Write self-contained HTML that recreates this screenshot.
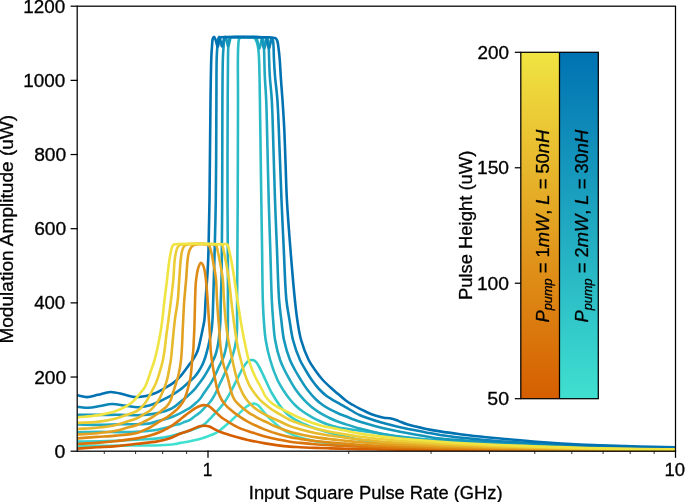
<!DOCTYPE html><html><head><meta charset="utf-8"><style>html,body{margin:0;padding:0;background:#fff;}svg{display:block;}text{font-family:"Liberation Sans", sans-serif;fill:#000;}</style></head><body>
<svg width="685" height="502" viewBox="0 0 685 502">
<rect width="685" height="502" fill="#fff"/>
<defs><clipPath id="ax"><rect x="77.20" y="6.20" width="598.30" height="445.00"/></clipPath>
<linearGradient id="go" x1="0" y1="1" x2="0" y2="0"><stop offset="0" stop-color="#d55e00"/><stop offset="1" stop-color="#f0e442"/></linearGradient>
<linearGradient id="gb" x1="0" y1="1" x2="0" y2="0"><stop offset="0" stop-color="#40e0d0"/><stop offset="1" stop-color="#0072b2"/></linearGradient></defs>
<g clip-path="url(#ax)" fill="none" stroke-width="2.60" stroke-linejoin="round" stroke-linecap="butt">
<path d="M77.20,446.30 C84.80,446.17 92.65,446.02 100.00,445.90 C106.88,445.79 113.33,445.67 120.00,445.60 C126.67,445.53 133.33,445.55 140.00,445.50 C146.67,445.45 153.82,445.60 160.00,445.30 C165.36,445.04 171.35,444.56 175.00,444.00 C177.13,443.68 178.04,443.28 180.00,442.90 C182.76,442.36 186.68,441.87 190.00,441.20 C193.32,440.53 196.78,439.78 199.90,438.90 C202.76,438.09 205.32,437.21 208.00,436.20 C210.72,435.18 213.68,434.15 216.10,432.80 C218.30,431.58 220.05,430.10 222.00,428.60 C224.02,427.04 226.02,425.34 228.00,423.60 C230.03,421.81 231.99,419.84 234.00,418.00 C235.99,416.17 238.10,414.36 240.00,412.60 C241.76,410.97 243.38,409.13 245.00,407.80 C246.36,406.68 247.67,405.70 249.00,405.00 C250.17,404.39 251.42,403.87 252.50,403.70 C253.39,403.56 254.15,403.59 255.00,403.80 C255.98,404.04 257.06,404.52 258.00,405.20 C259.08,405.98 260.06,407.32 261.00,408.40 C261.89,409.43 262.60,410.38 263.50,411.50 C264.57,412.82 265.76,414.46 267.00,415.80 C268.22,417.12 269.53,418.21 270.90,419.50 C272.42,420.93 273.96,422.50 275.70,424.00 C277.63,425.66 279.90,427.57 282.00,429.00 C283.90,430.29 285.40,431.15 287.70,432.30 C290.98,433.94 295.64,436.05 300.00,437.50 C304.69,439.06 309.97,440.23 315.00,441.20 C319.98,442.16 324.99,442.73 330.00,443.30 C334.99,443.87 339.84,444.22 345.00,444.60 C350.49,445.00 355.21,445.22 362.00,445.60 C372.15,446.17 387.17,447.05 400.00,447.60 C413.16,448.16 425.32,448.54 440.00,448.90 C457.98,449.34 480.00,449.65 500.00,449.90 C520.00,450.15 540.00,450.28 560.00,450.40 C580.00,450.52 600.39,450.55 620.00,450.60 C638.86,450.65 657.00,450.67 675.50,450.70" stroke="#40e0d0"/>
<path d="M77.20,441.60 C84.80,441.47 92.65,441.37 100.00,441.20 C106.89,441.04 113.34,440.88 120.00,440.60 C126.67,440.32 133.56,439.88 140.00,439.50 C146.03,439.14 152.17,439.01 157.50,438.40 C162.03,437.88 166.09,437.16 170.00,436.30 C173.54,435.53 176.68,434.58 180.00,433.60 C183.34,432.61 186.69,431.53 190.00,430.40 C193.32,429.27 197.19,428.08 199.90,426.80 C201.93,425.84 203.39,425.04 205.00,423.80 C206.74,422.45 208.27,420.61 209.90,418.90 C211.60,417.11 213.30,415.15 215.00,413.30 C216.67,411.48 218.37,409.81 220.00,407.90 C221.71,405.89 223.34,403.93 225.00,401.50 C226.98,398.59 228.92,395.13 230.90,391.50 C233.18,387.33 235.85,381.65 237.80,377.80 C239.22,374.99 240.27,372.75 241.50,370.50 C242.60,368.49 243.63,366.51 244.80,364.90 C245.81,363.51 246.85,362.13 248.00,361.30 C248.95,360.62 250.03,360.16 251.00,360.00 C251.85,359.86 252.70,359.93 253.50,360.20 C254.37,360.49 255.21,361.01 256.00,361.80 C257.08,362.88 258.04,364.81 259.00,366.50 C260.05,368.35 260.98,370.38 262.00,372.50 C263.14,374.85 264.15,377.16 265.50,380.00 C267.28,383.75 269.44,388.78 271.80,393.00 C274.20,397.28 277.32,402.10 279.80,405.50 C281.64,408.02 283.21,409.95 285.00,411.80 C286.62,413.47 287.97,414.71 290.00,416.20 C292.69,418.17 296.25,420.33 300.00,422.20 C304.42,424.41 309.96,426.52 315.00,428.30 C319.96,430.05 324.98,431.43 330.00,432.80 C334.98,434.16 339.83,435.32 345.00,436.50 C350.48,437.76 356.23,439.09 362.00,440.10 C367.90,441.13 373.83,441.88 380.00,442.60 C386.48,443.36 392.18,443.89 400.00,444.50 C411.04,445.36 425.31,446.24 440.00,446.90 C457.97,447.71 480.00,448.23 500.00,448.70 C520.00,449.17 540.00,449.45 560.00,449.70 C580.00,449.95 600.39,450.07 620.00,450.20 C638.86,450.33 657.00,450.40 675.50,450.50" stroke="#35cecb"/>
<path d="M77.20,432.20 C84.80,432.07 92.65,431.81 100.00,431.80 C106.88,431.79 113.33,432.15 120.00,432.10 C126.67,432.05 133.56,431.93 140.00,431.50 C146.04,431.10 152.43,430.56 157.50,429.70 C161.47,429.03 164.86,428.04 168.00,427.20 C170.58,426.51 172.86,425.68 175.00,425.10 C176.80,424.61 178.35,424.44 180.00,423.90 C181.69,423.35 183.33,422.47 185.00,421.80 C186.66,421.14 188.37,420.81 190.00,419.90 C191.84,418.88 193.67,417.07 195.40,415.80 C196.96,414.65 198.37,413.92 199.90,412.60 C201.78,410.98 203.92,408.43 205.70,406.60 C207.21,405.05 208.62,403.87 209.90,402.30 C211.22,400.68 212.40,398.84 213.50,397.00 C214.61,395.14 215.50,393.29 216.50,391.20 C217.63,388.83 218.77,385.93 219.90,383.50 C220.93,381.28 222.00,379.31 223.00,377.20 C224.00,375.11 224.90,373.08 225.90,370.90 C226.99,368.53 228.25,365.84 229.30,363.50 C230.24,361.40 231.14,359.52 231.90,357.50 C232.64,355.52 233.24,353.55 233.80,351.50 C234.38,349.39 234.87,347.29 235.30,345.00 C235.78,342.48 236.21,339.58 236.50,337.00 C236.77,334.59 236.90,332.54 237.00,330.00 C237.12,326.96 237.08,323.91 237.10,320.00 C237.13,314.48 237.08,307.34 237.10,300.00 C237.13,291.01 237.23,282.09 237.30,270.00 C237.41,251.54 237.59,225.41 237.70,200.00 C237.83,169.63 237.99,126.22 238.00,100.00 C238.01,83.01 237.76,68.01 237.90,58.00 C237.98,52.43 238.01,48.50 238.30,45.00 C238.50,42.61 238.40,40.32 239.10,39.00 C239.55,38.15 240.03,37.67 241.00,37.30 C242.82,36.61 247.60,37.27 250.00,37.30 C251.60,37.32 252.94,36.79 254.00,37.40 C255.16,38.07 255.87,40.06 256.50,41.50 C257.13,42.93 257.46,44.38 257.80,46.00 C258.19,47.84 258.40,50.00 258.60,52.00 C258.80,54.00 258.88,55.46 259.00,58.00 C259.21,62.39 259.36,69.57 259.50,76.00 C259.66,83.43 259.76,90.55 259.90,100.00 C260.11,113.64 260.37,133.33 260.60,150.00 C260.83,166.67 261.05,183.33 261.30,200.00 C261.55,216.67 261.85,233.33 262.10,250.00 C262.35,266.67 262.39,287.09 262.80,300.00 C263.06,308.17 263.32,313.34 263.80,320.00 C264.28,326.67 264.64,333.37 265.70,340.00 C266.77,346.70 268.26,353.40 270.20,360.00 C272.18,366.73 274.94,374.49 277.50,380.00 C279.43,384.16 281.38,387.22 283.50,390.50 C285.50,393.59 287.63,396.53 289.80,399.20 C291.81,401.67 293.83,403.95 296.00,406.00 C298.07,407.96 300.11,409.59 302.50,411.30 C305.16,413.20 308.34,415.13 311.30,416.80 C314.17,418.42 317.06,419.86 320.00,421.20 C322.90,422.52 325.84,423.79 328.80,424.80 C331.68,425.78 334.69,426.55 337.50,427.20 C340.08,427.80 342.06,428.13 345.00,428.60 C349.14,429.26 354.64,429.84 360.00,430.60 C366.19,431.48 373.33,432.62 380.00,433.60 C386.67,434.58 392.18,435.54 400.00,436.50 C411.03,437.85 425.31,439.26 440.00,440.50 C457.97,442.01 479.99,443.48 500.00,444.60 C519.99,445.72 540.00,446.57 560.00,447.20 C580.00,447.83 600.39,448.06 620.00,448.40 C638.86,448.72 657.00,448.93 675.50,449.20" stroke="#2bbbc6"/>
<path d="M77.20,424.50 C84.80,424.63 92.65,424.96 100.00,424.90 C106.89,424.84 113.60,424.31 120.00,424.20 C125.90,424.10 131.72,424.36 137.00,424.20 C141.63,424.06 146.30,424.10 150.00,423.40 C152.88,422.86 155.08,421.68 157.50,421.00 C159.73,420.37 161.73,420.02 164.00,419.40 C166.54,418.71 169.37,417.98 172.00,417.00 C174.70,415.99 177.67,414.57 180.00,413.40 C181.89,412.45 183.33,411.52 185.00,410.60 C186.66,409.69 188.38,408.98 190.00,407.90 C191.72,406.74 193.37,405.26 195.00,403.80 C196.68,402.30 198.42,400.77 199.90,399.00 C201.43,397.18 202.68,394.91 204.00,393.00 C205.21,391.25 206.38,389.62 207.50,388.00 C208.54,386.49 209.53,385.16 210.50,383.60 C211.54,381.94 212.53,380.13 213.50,378.30 C214.50,376.40 215.48,374.34 216.40,372.40 C217.28,370.54 218.05,368.72 218.90,366.90 C219.75,365.09 220.67,363.29 221.50,361.50 C222.30,359.76 223.16,358.11 223.80,356.30 C224.46,354.44 224.94,352.42 225.40,350.50 C225.84,348.65 226.18,346.95 226.50,345.00 C226.86,342.81 227.18,340.42 227.40,338.00 C227.63,335.43 227.72,332.82 227.80,330.00 C227.89,326.85 227.88,324.61 227.90,320.00 C227.95,309.70 227.95,288.07 227.90,270.00 C227.84,248.62 227.55,225.41 227.50,200.00 C227.44,169.63 227.58,126.22 227.70,100.00 C227.78,83.01 227.81,68.01 228.00,58.00 C228.11,52.43 228.11,48.50 228.40,45.00 C228.60,42.61 228.52,40.32 229.20,39.00 C229.63,38.16 230.00,37.70 231.00,37.30 C233.39,36.35 240.75,37.30 245.00,37.30 C248.56,37.30 252.89,37.02 254.80,37.30 C255.61,37.42 256.04,37.32 256.50,37.80 C257.33,38.67 257.42,41.67 257.90,43.50 C258.35,45.23 258.82,48.49 259.30,48.50 C259.76,48.51 260.26,45.56 260.70,44.00 C261.17,42.34 261.36,39.06 262.00,38.80 C262.32,38.67 262.81,39.04 263.10,39.50 C263.75,40.53 263.70,43.50 263.90,46.00 C264.16,49.39 264.17,53.60 264.30,58.00 C264.46,63.39 264.52,69.57 264.80,76.00 C265.12,83.43 265.80,90.54 266.20,100.00 C266.77,113.64 267.08,133.33 267.50,150.00 C267.92,166.67 268.23,183.33 268.70,200.00 C269.17,216.67 269.78,233.33 270.30,250.00 C270.82,266.67 271.19,287.09 271.80,300.00 C272.19,308.17 272.55,313.34 273.10,320.00 C273.65,326.67 273.95,333.38 275.10,340.00 C276.27,346.71 278.23,354.54 280.10,360.00 C281.46,363.97 282.89,366.70 284.50,370.00 C286.15,373.37 288.00,376.69 289.90,380.00 C291.83,383.36 293.73,386.76 296.00,390.00 C298.34,393.34 301.15,396.83 303.80,399.70 C306.16,402.26 308.55,404.47 311.00,406.50 C313.29,408.40 315.68,410.07 318.00,411.60 C320.15,413.02 322.32,414.25 324.40,415.40 C326.31,416.46 328.01,417.36 330.00,418.30 C332.19,419.33 334.57,420.37 337.00,421.30 C339.56,422.28 341.91,423.00 345.00,424.00 C349.21,425.36 354.47,427.09 360.00,428.60 C366.72,430.43 375.45,432.55 382.50,434.00 C388.68,435.27 392.96,436.02 400.00,437.00 C410.60,438.48 425.30,440.23 440.00,441.30 C457.96,442.61 480.00,442.78 500.00,443.60 C520.00,444.42 540.00,445.50 560.00,446.20 C580.00,446.90 600.39,447.36 620.00,447.80 C638.86,448.22 657.00,448.47 675.50,448.80" stroke="#20a9c1"/>
<path d="M77.20,414.70 C84.80,414.77 92.65,414.89 100.00,414.90 C106.88,414.91 113.60,414.74 120.00,414.80 C125.90,414.85 131.71,415.30 137.00,415.20 C141.63,415.11 145.96,414.89 150.00,414.40 C153.57,413.97 156.81,413.40 160.00,412.60 C163.03,411.84 166.08,410.93 168.70,409.80 C171.02,408.79 173.07,407.59 175.00,406.30 C176.82,405.08 178.34,403.65 180.00,402.30 C181.67,400.95 183.34,399.59 185.00,398.20 C186.67,396.79 188.37,395.43 190.00,393.90 C191.70,392.31 193.39,390.64 195.00,388.80 C196.70,386.86 198.41,384.49 199.90,382.50 C201.21,380.75 202.34,379.24 203.50,377.50 C204.71,375.68 205.90,373.69 207.00,371.80 C208.06,369.99 209.01,368.22 210.00,366.40 C211.01,364.55 212.08,362.75 213.00,360.80 C213.95,358.78 214.87,356.72 215.60,354.50 C216.38,352.14 216.96,349.63 217.50,347.00 C218.08,344.15 218.51,340.92 218.90,338.00 C219.27,335.26 219.56,332.82 219.80,330.00 C220.07,326.86 220.24,323.91 220.40,320.00 C220.62,314.48 220.62,307.34 220.80,300.00 C221.02,291.01 221.48,282.09 221.70,270.00 C222.04,251.54 222.08,225.41 222.20,200.00 C222.34,169.63 222.22,126.22 222.40,100.00 C222.52,83.01 222.56,67.75 222.90,58.00 C223.08,52.78 223.32,49.39 223.60,46.00 C223.81,43.50 223.88,41.18 224.30,39.50 C224.58,38.38 225.03,36.79 225.40,36.80 C225.83,36.81 226.29,39.11 226.70,40.50 C227.21,42.25 227.60,46.48 228.10,46.50 C228.54,46.52 229.06,43.50 229.50,42.00 C229.93,40.53 229.98,38.26 230.70,37.60 C231.14,37.19 231.63,37.37 232.40,37.30 C234.02,37.16 236.88,37.30 240.00,37.30 C245.01,37.30 256.64,36.87 259.60,37.30 C260.49,37.43 260.84,37.32 261.30,37.80 C262.13,38.67 262.22,41.67 262.70,43.50 C263.15,45.23 263.62,48.49 264.10,48.50 C264.56,48.51 265.06,45.56 265.50,44.00 C265.97,42.34 266.16,39.06 266.80,38.80 C267.12,38.67 267.61,39.04 267.90,39.50 C268.55,40.53 268.50,43.50 268.70,46.00 C268.96,49.39 268.94,53.60 269.10,58.00 C269.29,63.39 269.41,69.57 269.80,76.00 C270.25,83.43 271.25,90.54 271.80,100.00 C272.60,113.63 272.97,133.33 273.50,150.00 C274.03,166.67 274.42,183.33 275.00,200.00 C275.58,216.67 276.32,233.33 277.00,250.00 C277.68,266.67 278.12,287.10 279.10,300.00 C279.72,308.18 280.48,313.34 281.30,320.00 C282.12,326.67 282.57,333.39 284.00,340.00 C285.45,346.72 287.84,354.55 290.00,360.00 C291.58,363.99 293.20,366.70 295.00,370.00 C296.83,373.37 298.79,376.66 300.90,380.00 C303.11,383.49 305.45,387.21 308.00,390.50 C310.49,393.70 313.35,396.95 316.00,399.50 C318.25,401.66 320.36,403.34 322.70,405.00 C325.02,406.64 327.48,408.04 330.00,409.40 C332.57,410.78 335.40,412.07 338.00,413.20 C340.39,414.25 342.22,414.91 345.00,416.00 C349.05,417.59 354.44,419.97 360.00,421.80 C366.69,424.01 375.45,426.26 382.50,428.00 C388.68,429.52 393.63,430.55 400.00,431.80 C407.58,433.29 417.72,434.98 425.00,436.20 C430.63,437.15 433.78,437.86 440.00,438.60 C450.11,439.80 468.95,440.86 480.00,441.70 C487.81,442.30 491.54,442.74 500.00,443.20 C514.63,443.99 540.00,444.53 560.00,445.20 C580.00,445.87 600.39,446.68 620.00,447.20 C638.86,447.70 657.00,447.93 675.50,448.30" stroke="#1597bc"/>
<path d="M77.20,406.80 C80.97,407.13 84.72,407.93 88.50,407.80 C92.32,407.67 96.13,406.63 100.00,406.00 C103.96,405.36 107.91,404.09 112.00,404.00 C116.24,403.91 120.67,405.05 125.00,405.60 C129.33,406.15 133.76,407.37 138.00,407.30 C142.09,407.23 146.24,406.37 150.00,405.30 C153.55,404.29 156.69,402.70 160.00,401.20 C163.36,399.67 166.72,398.07 170.00,396.20 C173.38,394.28 176.76,392.24 180.00,389.80 C183.43,387.21 187.26,383.50 190.00,381.00 C191.97,379.21 193.50,377.99 195.00,376.30 C196.46,374.65 197.68,372.90 198.90,371.00 C200.19,368.98 201.45,366.74 202.50,364.50 C203.55,362.24 204.41,359.89 205.20,357.50 C206.01,355.06 206.66,352.46 207.30,350.00 C207.92,347.63 208.45,345.42 209.00,343.00 C209.59,340.43 210.22,337.67 210.70,335.00 C211.18,332.34 211.59,329.75 211.90,327.00 C212.23,324.09 212.40,321.52 212.60,318.00 C212.88,313.03 212.99,306.76 213.20,300.00 C213.48,291.27 213.77,282.09 214.10,270.00 C214.60,251.54 215.42,225.41 215.80,200.00 C216.26,169.63 216.23,126.22 216.40,100.00 C216.51,83.01 216.38,67.75 216.70,58.00 C216.87,52.78 217.12,49.39 217.40,46.00 C217.61,43.50 217.68,41.18 218.10,39.50 C218.38,38.38 218.83,36.79 219.20,36.80 C219.63,36.81 220.09,39.11 220.50,40.50 C221.01,42.25 221.40,46.48 221.90,46.50 C222.34,46.52 222.86,43.50 223.30,42.00 C223.73,40.53 223.78,38.26 224.50,37.60 C224.94,37.19 225.41,37.37 226.20,37.30 C227.99,37.14 231.21,37.30 235.00,37.30 C241.93,37.30 260.62,36.75 264.40,37.30 C265.33,37.43 265.64,37.32 266.10,37.80 C266.93,38.67 267.02,41.67 267.50,43.50 C267.95,45.23 268.42,48.49 268.90,48.50 C269.36,48.51 269.86,45.56 270.30,44.00 C270.77,42.34 270.96,39.06 271.60,38.80 C271.92,38.67 272.41,39.04 272.70,39.50 C273.35,40.53 273.30,43.50 273.50,46.00 C273.76,49.39 273.69,53.60 273.90,58.00 C274.15,63.40 274.48,69.57 275.00,76.00 C275.60,83.43 276.72,90.54 277.40,100.00 C278.38,113.63 278.92,133.33 279.60,150.00 C280.28,166.67 280.80,183.33 281.50,200.00 C282.20,216.67 282.98,233.33 283.80,250.00 C284.62,266.67 285.07,287.11 286.40,300.00 C287.25,308.19 288.40,313.34 289.50,320.00 C290.60,326.67 291.28,333.40 293.00,340.00 C294.76,346.74 297.57,354.56 300.00,360.00 C301.78,363.99 303.55,366.70 305.50,370.00 C307.48,373.36 309.53,376.82 311.80,380.00 C314.04,383.14 316.51,386.32 319.00,389.00 C321.26,391.44 323.79,393.77 326.00,395.50 C327.75,396.87 328.89,397.50 331.00,398.80 C334.47,400.93 340.25,404.11 345.00,406.80 C349.91,409.58 354.37,412.70 360.00,415.20 C366.62,418.14 375.43,420.72 382.50,422.80 C388.66,424.61 393.63,425.76 400.00,427.20 C407.57,428.91 417.72,430.79 425.00,432.20 C430.63,433.29 433.78,434.06 440.00,435.00 C450.11,436.52 468.95,438.52 480.00,439.60 C487.80,440.36 491.54,440.62 500.00,441.20 C514.64,442.20 542.02,443.78 560.00,444.60 C574.68,445.27 586.67,445.57 600.00,446.00 C613.33,446.43 627.06,446.88 640.00,447.20 C652.19,447.50 663.67,447.67 675.50,447.90" stroke="#0b84b7"/>
<path d="M77.20,395.30 C80.47,395.90 83.64,397.14 87.00,397.10 C90.56,397.06 94.21,395.62 98.00,394.80 C102.06,393.92 106.33,392.07 110.60,392.00 C114.99,391.92 119.72,393.61 124.00,394.50 C127.96,395.32 131.65,396.87 135.40,397.10 C138.98,397.32 142.64,396.67 146.00,396.00 C149.15,395.37 151.98,394.54 155.00,393.30 C158.31,391.94 162.13,389.58 165.00,388.00 C167.21,386.79 169.00,385.90 170.80,384.70 C172.52,383.56 174.04,382.34 175.60,381.00 C177.21,379.61 178.70,378.29 180.30,376.50 C182.29,374.28 184.65,370.87 186.40,368.50 C187.77,366.65 188.86,365.01 190.00,363.50 C190.97,362.22 191.92,361.27 192.80,360.00 C193.76,358.62 194.67,357.10 195.50,355.50 C196.38,353.79 197.17,352.14 197.90,350.00 C198.86,347.19 199.63,343.34 200.40,340.00 C201.16,336.67 201.83,333.34 202.50,330.00 C203.17,326.67 203.91,323.92 204.40,320.00 C205.09,314.50 205.12,307.34 205.60,300.00 C206.18,291.01 207.21,278.99 207.70,270.00 C208.10,262.66 208.25,258.17 208.50,250.00 C208.89,237.09 209.21,219.53 209.50,200.00 C209.91,172.39 210.12,126.21 210.50,100.00 C210.75,83.01 210.90,68.01 211.30,58.00 C211.52,52.43 211.80,48.59 212.10,45.00 C212.31,42.46 212.27,39.95 212.80,38.50 C213.10,37.66 213.59,36.68 214.00,36.70 C214.49,36.72 215.05,38.38 215.50,39.50 C216.10,41.00 216.54,43.63 217.00,45.00 C217.28,45.84 217.55,47.02 217.80,47.00 C218.14,46.97 218.41,44.41 218.70,43.00 C219.02,41.43 218.95,38.87 219.60,38.00 C219.96,37.52 220.16,37.50 221.00,37.30 C225.58,36.22 260.93,37.04 268.00,37.30 C270.07,37.38 270.71,37.44 272.00,37.60 C273.24,37.75 274.70,37.58 275.60,38.20 C276.48,38.80 276.93,39.91 277.40,41.20 C278.10,43.12 278.24,46.22 278.60,48.90 C278.99,51.80 279.28,54.30 279.60,58.00 C280.10,63.74 280.50,72.84 281.00,80.00 C281.47,86.83 282.00,92.66 282.50,100.00 C283.11,108.99 283.80,119.61 284.30,130.00 C284.84,141.21 285.17,153.33 285.60,165.00 C286.03,176.67 286.21,187.30 286.90,200.00 C287.73,215.19 289.17,233.34 290.50,250.00 C291.83,266.67 293.56,287.09 294.90,300.00 C295.75,308.18 296.27,313.35 297.30,320.00 C298.33,326.68 299.24,333.41 301.10,340.00 C303.01,346.75 306.00,354.58 308.70,360.00 C310.71,364.02 312.70,366.72 315.00,370.00 C317.38,373.39 320.15,377.04 322.80,380.00 C325.16,382.63 327.54,384.74 330.00,387.00 C332.44,389.24 334.93,391.30 337.50,393.50 C340.19,395.80 343.06,398.50 345.80,400.50 C348.22,402.26 350.60,403.58 353.00,405.00 C355.33,406.38 357.85,407.78 360.00,408.90 C361.79,409.83 363.09,410.43 365.00,411.30 C367.51,412.44 371.09,414.15 373.80,415.10 C376.02,415.88 378.15,416.34 380.00,416.80 C381.47,417.17 382.52,417.46 384.00,417.70 C385.79,417.99 388.21,417.99 390.00,418.30 C391.48,418.56 392.65,418.88 394.00,419.30 C395.42,419.74 396.62,420.27 398.30,420.90 C400.70,421.80 404.07,423.25 407.00,424.20 C409.90,425.14 412.83,425.86 415.80,426.60 C418.82,427.36 421.55,428.00 425.00,428.70 C429.38,429.59 434.63,430.54 440.00,431.40 C446.18,432.39 453.33,433.35 460.00,434.20 C466.66,435.05 473.33,435.78 480.00,436.50 C486.66,437.22 492.19,437.77 500.00,438.50 C511.04,439.54 526.66,440.98 540.00,442.00 C553.33,443.02 568.95,444.05 580.00,444.60 C587.81,444.99 592.19,445.04 600.00,445.30 C611.05,445.67 627.06,446.28 640.00,446.60 C652.19,446.90 663.67,447.00 675.50,447.20" stroke="#0072b2"/>
<path d="M77.20,448.60 C83.80,448.17 90.47,447.72 97.00,447.30 C103.40,446.89 109.51,446.66 116.00,446.10 C122.83,445.51 130.04,444.59 137.00,443.80 C143.88,443.02 151.54,442.51 157.50,441.40 C162.21,440.53 166.12,439.54 170.00,438.20 C173.57,436.97 176.64,435.12 180.00,433.80 C183.31,432.50 187.11,431.45 190.00,430.30 C192.28,429.39 194.20,428.30 196.00,427.60 C197.42,427.04 198.58,426.60 199.90,426.30 C201.21,426.00 202.65,425.84 203.90,425.80 C205.00,425.77 205.99,425.83 207.00,426.00 C207.99,426.17 208.87,426.41 209.90,426.80 C211.17,427.28 212.51,428.06 214.00,428.80 C215.81,429.70 218.07,430.97 220.00,431.80 C221.72,432.54 222.98,432.94 225.00,433.60 C228.02,434.59 232.60,435.95 236.40,437.00 C240.16,438.04 243.52,438.94 247.70,439.90 C252.84,441.08 259.63,442.44 265.00,443.40 C269.63,444.22 273.75,444.85 278.00,445.40 C282.07,445.92 286.18,446.34 290.00,446.64 C293.48,446.92 296.33,447.01 300.00,447.20 C304.49,447.43 310.00,447.70 315.00,447.89 C320.00,448.09 325.00,448.22 330.00,448.36 C335.00,448.50 340.00,448.61 345.00,448.73 C350.00,448.85 354.64,448.98 360.00,449.09 C366.19,449.21 373.33,449.33 380.00,449.42 C386.67,449.52 392.19,449.59 400.00,449.68 C411.05,449.80 425.32,449.94 440.00,450.06 C457.98,450.21 480.00,450.35 500.00,450.46 C520.00,450.56 540.00,450.63 560.00,450.71 C580.00,450.78 600.39,450.86 620.00,450.90 C638.86,450.94 657.00,450.95 675.50,450.97" stroke="#d55e00"/>
<path d="M77.20,444.00 C83.80,443.63 90.39,443.40 97.00,442.90 C103.65,442.40 110.34,441.75 117.00,441.00 C123.67,440.25 131.07,439.44 137.00,438.40 C141.82,437.55 145.98,436.65 150.00,435.50 C153.58,434.48 157.00,433.27 160.00,432.00 C162.58,430.91 164.88,429.64 167.00,428.50 C168.82,427.52 170.18,426.81 172.00,425.60 C174.40,424.01 177.66,421.41 180.00,419.60 C181.87,418.15 183.32,416.89 185.00,415.60 C186.65,414.33 188.33,413.12 190.00,411.90 C191.66,410.69 193.30,409.32 195.00,408.30 C196.60,407.34 198.36,406.44 199.90,405.90 C201.16,405.46 202.30,405.15 203.50,405.10 C204.67,405.06 205.91,405.28 207.00,405.60 C208.03,405.90 208.90,406.26 209.90,406.90 C211.21,407.74 212.53,409.17 214.00,410.50 C215.78,412.11 217.88,414.29 219.80,415.90 C221.54,417.36 222.99,418.43 225.00,419.80 C227.58,421.55 231.13,423.80 234.10,425.40 C236.78,426.85 239.09,427.95 242.00,429.10 C245.42,430.45 249.58,431.57 253.40,432.80 C257.25,434.04 261.00,435.39 265.00,436.50 C269.19,437.67 273.74,438.72 278.00,439.60 C282.07,440.44 286.17,441.14 290.00,441.70 C293.48,442.21 296.33,442.48 300.00,442.87 C304.49,443.35 310.00,443.91 315.00,444.31 C320.00,444.71 325.00,445.00 330.00,445.29 C335.00,445.58 340.00,445.80 345.00,446.05 C350.00,446.30 354.64,446.57 360.00,446.80 C366.19,447.06 373.33,447.30 380.00,447.50 C386.67,447.70 392.19,447.84 400.00,448.02 C411.05,448.28 425.32,448.58 440.00,448.82 C457.98,449.13 480.00,449.42 500.00,449.65 C520.00,449.87 540.00,450.02 560.00,450.18 C580.00,450.33 600.39,450.48 620.00,450.57 C638.86,450.66 657.00,450.68 675.50,450.73" stroke="#da740b"/>
<path d="M77.20,438.40 C83.80,437.90 90.47,437.37 97.00,436.90 C103.40,436.44 109.52,436.22 116.00,435.60 C122.83,434.94 131.73,434.42 137.00,433.00 C140.38,432.09 142.64,430.60 145.00,429.60 C146.86,428.81 148.21,428.43 150.00,427.50 C152.29,426.31 155.18,424.20 157.50,422.80 C159.46,421.61 161.21,420.66 163.00,419.60 C164.71,418.59 166.32,417.76 168.00,416.60 C169.85,415.32 171.97,413.51 173.60,412.20 C174.88,411.17 175.90,410.47 177.00,409.40 C178.21,408.23 179.38,406.86 180.50,405.40 C181.72,403.82 183.04,402.07 184.00,400.20 C184.99,398.28 185.57,396.21 186.30,394.00 C187.12,391.52 187.91,388.68 188.60,386.00 C189.28,383.34 189.93,380.83 190.40,378.00 C190.92,374.87 191.18,371.25 191.50,368.00 C191.81,364.92 192.00,362.00 192.30,359.00 C192.60,356.00 193.05,353.08 193.30,350.00 C193.56,346.76 193.63,343.33 193.80,340.00 C193.97,336.67 194.17,333.33 194.30,330.00 C194.43,326.67 194.49,323.91 194.60,320.00 C194.75,314.48 194.89,306.40 195.10,300.00 C195.30,294.10 195.40,287.70 195.80,283.00 C196.08,279.64 196.46,277.04 196.90,274.40 C197.28,272.13 197.51,270.07 198.20,268.10 C198.86,266.21 199.93,262.89 200.90,262.80 C201.72,262.73 202.85,264.82 203.50,266.20 C204.28,267.87 204.51,270.19 204.90,272.30 C205.32,274.54 205.57,276.34 205.90,279.30 C206.47,284.37 207.10,293.16 207.60,300.00 C208.09,306.72 208.53,314.48 208.90,320.00 C209.16,323.91 209.38,326.67 209.60,330.00 C209.82,333.33 210.02,336.67 210.20,340.00 C210.38,343.33 210.44,346.76 210.70,350.00 C210.95,353.08 211.30,356.00 211.70,359.00 C212.10,362.00 212.58,364.92 213.10,368.00 C213.64,371.25 214.21,374.52 214.90,378.00 C215.66,381.82 216.33,386.28 217.50,390.00 C218.58,393.40 219.94,396.78 221.50,399.50 C222.83,401.82 224.44,403.75 226.00,405.50 C227.39,407.06 228.71,408.22 230.30,409.60 C232.12,411.18 234.01,412.70 236.40,414.40 C239.54,416.63 243.45,419.27 247.70,421.60 C252.77,424.37 259.59,427.44 265.00,429.60 C269.59,431.43 273.73,432.72 278.00,434.00 C282.06,435.22 286.17,436.31 290.00,437.14 C293.47,437.89 296.33,438.29 300.00,438.87 C304.49,439.58 309.99,440.41 315.00,441.01 C319.99,441.60 325.00,442.02 330.00,442.45 C335.00,442.88 340.00,443.20 345.00,443.58 C350.00,443.95 354.64,444.35 360.00,444.69 C366.19,445.08 373.33,445.42 380.00,445.72 C386.67,446.03 392.19,446.23 400.00,446.50 C411.04,446.88 425.32,447.32 440.00,447.69 C457.98,448.13 480.00,448.57 500.00,448.91 C520.00,449.24 540.00,449.45 560.00,449.68 C580.00,449.91 600.39,450.14 620.00,450.27 C638.86,450.41 657.00,450.42 675.50,450.50" stroke="#de8b16"/>
<path d="M77.20,434.40 C83.80,434.03 90.40,433.93 97.00,433.30 C103.66,432.67 111.68,431.72 117.00,430.60 C120.62,429.84 122.85,428.89 126.00,428.00 C129.48,427.02 133.67,426.23 137.00,425.00 C139.93,423.91 142.65,422.37 145.00,421.20 C146.87,420.27 148.19,419.65 150.00,418.60 C152.27,417.28 155.35,415.34 157.50,413.80 C159.23,412.56 160.50,411.40 162.00,410.20 C163.50,409.00 165.16,408.05 166.50,406.60 C167.95,405.03 169.24,403.17 170.30,401.00 C171.55,398.43 172.26,394.91 173.20,392.00 C174.09,389.25 174.97,386.67 175.80,384.00 C176.63,381.34 177.51,378.68 178.20,376.00 C178.88,373.35 179.42,370.75 179.90,368.00 C180.40,365.10 180.78,362.00 181.10,359.00 C181.42,356.00 181.60,353.08 181.80,350.00 C182.01,346.76 182.15,343.33 182.30,340.00 C182.45,336.67 182.55,333.33 182.70,330.00 C182.85,326.67 182.99,323.90 183.20,320.00 C183.49,314.48 183.82,306.66 184.30,300.00 C184.78,293.33 185.55,286.67 186.10,280.00 C186.65,273.34 186.96,265.19 187.60,260.00 C188.01,256.66 188.36,253.91 189.00,251.80 C189.42,250.39 189.90,249.40 190.50,248.40 C191.05,247.49 191.70,246.58 192.40,246.00 C192.99,245.51 193.60,245.29 194.30,245.00 C195.11,244.67 195.85,244.37 197.00,244.20 C198.95,243.92 202.84,243.89 205.00,244.20 C206.52,244.42 207.82,244.38 208.80,245.30 C210.11,246.54 210.49,249.42 211.20,252.00 C212.12,255.37 212.75,259.75 213.50,263.90 C214.32,268.44 215.33,272.91 215.90,278.20 C216.61,284.69 216.57,292.91 217.00,300.00 C217.41,306.76 217.96,314.29 218.40,319.80 C218.71,323.76 219.05,326.62 219.30,330.00 C219.55,333.35 219.63,336.67 219.90,340.00 C220.17,343.34 220.48,346.68 220.90,350.00 C221.32,353.31 221.79,356.89 222.40,359.90 C222.92,362.48 223.48,364.59 224.20,367.00 C224.97,369.58 226.10,372.23 226.90,374.90 C227.70,377.57 228.35,380.40 229.00,383.00 C229.61,385.42 230.08,387.77 230.70,390.00 C231.28,392.09 231.83,394.19 232.60,396.00 C233.29,397.62 234.00,398.99 235.00,400.40 C236.09,401.93 237.63,403.45 239.00,404.80 C240.30,406.07 241.51,407.09 243.00,408.30 C244.77,409.74 246.97,411.44 249.00,412.80 C250.94,414.10 253.00,415.20 254.90,416.30 C256.66,417.32 258.15,418.26 260.00,419.20 C262.10,420.27 264.52,421.18 266.90,422.30 C269.50,423.53 271.85,424.95 275.00,426.30 C279.20,428.10 285.47,430.45 290.00,431.82 C293.63,432.92 296.32,433.41 300.00,434.21 C304.49,435.18 309.99,436.33 315.00,437.15 C319.99,437.97 325.00,438.55 330.00,439.14 C335.00,439.73 340.00,440.18 345.00,440.69 C350.00,441.21 354.64,441.76 360.00,442.22 C366.18,442.76 373.33,443.24 380.00,443.65 C386.66,444.07 392.19,444.35 400.00,444.72 C411.04,445.24 425.32,445.85 440.00,446.35 C457.98,446.97 480.00,447.58 500.00,448.04 C520.00,448.50 540.00,448.79 560.00,449.11 C580.00,449.42 600.39,449.74 620.00,449.93 C638.86,450.11 657.00,450.13 675.50,450.23" stroke="#e2a121"/>
<path d="M77.20,429.00 C83.80,428.57 90.48,428.39 97.00,427.70 C103.41,427.02 110.71,426.08 116.00,424.90 C119.90,424.03 122.60,422.98 126.00,421.90 C129.59,420.76 133.69,419.71 137.00,418.20 C139.96,416.85 142.65,414.92 145.00,413.50 C146.87,412.37 148.44,411.62 150.00,410.40 C151.61,409.14 153.10,407.65 154.50,406.00 C156.01,404.22 157.45,402.09 158.70,400.00 C159.95,397.92 160.98,395.73 162.00,393.50 C163.04,391.23 164.01,388.97 164.90,386.50 C165.86,383.83 166.77,380.97 167.50,378.00 C168.29,374.82 168.81,371.18 169.40,368.00 C169.94,365.11 170.43,363.07 170.90,359.70 C171.61,354.54 172.14,346.61 172.80,340.00 C173.47,333.31 174.06,326.49 174.90,319.80 C175.73,313.16 177.08,306.63 177.80,300.00 C178.52,293.36 178.72,286.67 179.20,280.00 C179.68,273.33 180.13,265.20 180.70,260.00 C181.07,256.66 181.40,254.00 181.90,251.80 C182.25,250.28 182.58,249.09 183.10,248.00 C183.54,247.07 184.05,246.16 184.70,245.60 C185.25,245.12 185.91,244.93 186.60,244.70 C187.34,244.45 187.78,244.33 189.00,244.20 C192.73,243.82 207.54,243.75 212.00,244.20 C213.86,244.39 214.94,244.11 215.90,245.00 C217.19,246.20 217.25,249.34 217.90,252.00 C218.73,255.43 219.53,259.74 220.30,263.90 C221.14,268.44 222.10,272.91 222.70,278.20 C223.44,284.69 223.50,292.91 224.00,300.00 C224.47,306.76 225.05,314.29 225.60,319.80 C225.99,323.76 226.35,326.62 226.80,330.00 C227.25,333.35 227.75,336.86 228.30,340.00 C228.79,342.82 229.34,345.19 229.90,348.00 C230.53,351.12 231.23,354.72 231.90,357.90 C232.53,360.87 233.15,363.65 233.80,366.50 C234.45,369.32 235.08,372.18 235.80,374.90 C236.49,377.51 237.17,380.09 238.00,382.50 C238.78,384.77 239.67,386.89 240.60,389.00 C241.51,391.06 242.34,393.01 243.50,395.00 C244.77,397.17 246.21,399.40 248.00,401.50 C249.98,403.82 252.58,406.27 255.00,408.20 C257.25,410.00 259.55,411.36 262.00,412.80 C264.54,414.30 267.16,415.62 270.00,417.00 C273.13,418.52 276.67,419.98 280.00,421.50 C283.34,423.02 286.62,424.83 290.00,426.12 C293.29,427.38 296.32,428.17 300.00,429.21 C304.48,430.47 309.98,431.95 315.00,433.02 C319.98,434.07 324.99,434.82 330.00,435.59 C334.99,436.35 340.00,436.94 345.00,437.60 C350.00,438.27 354.63,438.98 360.00,439.58 C366.18,440.28 373.33,440.89 380.00,441.43 C386.66,441.97 392.19,442.34 400.00,442.82 C411.04,443.49 425.32,444.28 440.00,444.93 C457.98,445.73 480.00,446.51 500.00,447.11 C520.00,447.70 540.00,448.09 560.00,448.49 C580.00,448.90 600.39,449.31 620.00,449.55 C638.86,449.78 657.00,449.81 675.50,449.95" stroke="#e7b72c"/>
<path d="M77.20,422.90 C83.80,422.57 90.49,422.66 97.00,421.90 C103.42,421.15 110.72,419.78 116.00,418.40 C119.91,417.38 122.59,416.20 126.00,415.00 C129.59,413.74 134.15,412.64 137.00,411.00 C139.13,409.77 140.49,408.34 142.00,406.80 C143.49,405.27 144.68,403.77 146.00,401.80 C147.68,399.30 149.36,395.89 151.00,392.80 C152.70,389.59 154.65,386.06 156.00,382.90 C157.17,380.16 157.96,377.57 158.80,375.00 C159.59,372.58 160.22,370.36 160.90,367.90 C161.63,365.27 162.40,362.56 163.00,359.70 C163.65,356.62 164.09,353.59 164.60,350.00 C165.23,345.55 165.75,340.01 166.40,335.00 C167.05,329.95 167.79,325.20 168.50,319.80 C169.31,313.64 170.20,306.62 171.00,300.00 C171.80,293.35 172.68,286.67 173.30,280.00 C173.92,273.34 174.08,265.19 174.70,260.00 C175.10,256.66 175.57,254.00 176.10,251.80 C176.47,250.28 176.76,249.09 177.30,248.00 C177.76,247.07 178.33,246.16 179.00,245.60 C179.56,245.13 180.24,244.93 180.90,244.70 C181.57,244.46 181.86,244.33 183.00,244.20 C187.58,243.66 212.16,243.98 218.00,244.20 C219.95,244.27 220.94,243.70 221.90,244.50 C223.25,245.62 223.25,249.20 223.90,252.00 C224.72,255.50 225.53,259.74 226.30,263.90 C227.14,268.44 227.95,272.92 228.70,278.20 C229.62,284.69 230.36,292.91 231.20,300.00 C232.00,306.76 232.89,314.29 233.60,319.80 C234.11,323.76 234.51,326.62 235.00,330.00 C235.48,333.35 235.95,336.76 236.50,340.00 C237.02,343.08 237.57,346.01 238.20,349.00 C238.83,352.01 239.50,354.80 240.30,358.00 C241.23,361.70 242.38,366.22 243.50,369.90 C244.49,373.15 245.47,376.14 246.60,379.00 C247.65,381.65 248.81,384.36 250.00,386.50 C250.96,388.24 252.09,389.68 253.00,391.00 C253.72,392.05 254.17,392.72 255.00,393.80 C256.23,395.40 258.10,397.82 259.80,399.60 C261.44,401.31 263.12,402.73 265.00,404.30 C267.08,406.03 269.37,407.87 271.80,409.50 C274.36,411.22 277.13,412.63 280.00,414.30 C283.16,416.13 286.60,418.43 290.00,420.04 C293.27,421.60 296.31,422.59 300.00,423.88 C304.47,425.44 309.97,427.28 315.00,428.61 C319.97,429.92 324.99,430.85 330.00,431.81 C334.99,432.75 340.00,433.48 345.00,434.31 C350.00,435.13 354.63,436.02 360.00,436.77 C366.18,437.63 373.33,438.39 380.00,439.06 C386.66,439.73 392.19,440.19 400.00,440.79 C411.04,441.62 425.32,442.60 440.00,443.41 C457.98,444.40 480.00,445.38 500.00,446.12 C520.00,446.85 540.00,447.33 560.00,447.84 C580.00,448.34 600.39,448.85 620.00,449.15 C638.86,449.44 657.00,449.48 675.50,449.64" stroke="#ecce37"/>
<path d="M77.20,417.40 C83.80,416.73 90.50,416.48 97.00,415.40 C103.43,414.33 110.75,412.79 116.00,411.00 C119.94,409.65 123.03,408.10 126.00,406.40 C128.62,404.90 130.78,403.49 133.00,401.50 C135.48,399.28 137.91,396.09 140.00,393.50 C141.86,391.20 143.66,389.17 145.00,386.80 C146.31,384.50 147.04,382.08 148.00,379.50 C149.05,376.67 149.99,373.45 151.00,370.50 C151.99,367.62 153.09,364.97 154.00,362.00 C154.97,358.82 155.81,355.34 156.60,352.00 C157.38,348.68 158.03,345.34 158.70,342.00 C159.37,338.67 160.02,335.49 160.60,332.00 C161.23,328.19 161.73,324.51 162.30,320.00 C163.03,314.19 163.72,306.66 164.50,300.00 C165.28,293.33 166.18,286.67 167.00,280.00 C167.82,273.33 168.61,265.20 169.40,260.00 C169.91,256.66 170.39,254.16 170.90,251.80 C171.29,249.98 171.53,248.29 172.10,247.00 C172.53,246.02 173.04,245.05 173.70,244.60 C174.25,244.23 174.53,244.31 175.60,244.20 C180.86,243.65 215.82,244.02 223.00,244.20 C225.11,244.25 226.06,243.60 227.10,244.40 C228.54,245.51 228.77,249.16 229.50,252.00 C230.40,255.50 231.13,259.74 231.90,263.90 C232.74,268.44 233.48,272.93 234.30,278.20 C235.31,284.70 236.34,292.91 237.40,300.00 C238.41,306.76 239.58,314.29 240.50,319.80 C241.16,323.76 241.68,326.62 242.30,330.00 C242.91,333.35 243.53,336.67 244.20,340.00 C244.87,343.34 245.58,346.76 246.30,350.00 C246.98,353.08 247.54,356.02 248.40,359.00 C249.27,362.02 250.35,364.98 251.50,368.00 C252.70,371.14 254.08,374.55 255.50,377.50 C256.79,380.18 258.36,382.69 259.60,385.00 C260.66,386.97 261.59,388.71 262.50,390.50 C263.35,392.17 263.97,393.88 264.90,395.40 C265.81,396.87 266.93,398.29 268.00,399.50 C268.97,400.59 269.80,401.41 271.00,402.40 C272.54,403.66 274.50,405.03 276.60,406.30 C279.08,407.80 282.16,409.25 285.00,410.70 C287.89,412.18 290.86,413.71 293.80,415.10 C296.69,416.47 299.58,417.76 302.50,419.00 C305.41,420.23 308.35,421.46 311.30,422.50 C314.19,423.52 317.08,424.40 320.00,425.20 C322.91,426.00 325.87,426.65 328.80,427.30 C331.70,427.95 334.71,428.53 337.50,429.10 C340.09,429.63 342.07,430.01 345.00,430.60 C349.14,431.43 354.63,432.69 360.00,433.60 C366.17,434.65 373.33,435.58 380.00,436.40 C386.66,437.22 392.18,437.78 400.00,438.50 C411.04,439.52 425.31,440.71 440.00,441.70 C457.97,442.91 480.00,444.10 500.00,445.00 C520.00,445.90 542.02,446.49 560.00,447.10 C574.68,447.60 586.67,448.08 600.00,448.40 C613.33,448.72 627.06,448.85 640.00,449.00 C652.19,449.14 663.67,449.20 675.50,449.30" stroke="#f0e442"/>
</g>
<g stroke="#000" stroke-width="1.25" fill="none" stroke-linecap="square">
<rect x="77.20" y="6.20" width="598.30" height="445.00"/>
<line x1="71.20" y1="451.20" x2="77.20" y2="451.20"/>
<line x1="71.20" y1="377.03" x2="77.20" y2="377.03"/>
<line x1="71.20" y1="302.87" x2="77.20" y2="302.87"/>
<line x1="71.20" y1="228.70" x2="77.20" y2="228.70"/>
<line x1="71.20" y1="154.53" x2="77.20" y2="154.53"/>
<line x1="71.20" y1="80.37" x2="77.20" y2="80.37"/>
<line x1="71.20" y1="6.20" x2="77.20" y2="6.20"/>
<line x1="208.00" y1="451.20" x2="208.00" y2="457.20"/>
<line x1="675.50" y1="451.20" x2="675.50" y2="457.20"/>
</g>
<g stroke="#000" stroke-width="0.8" fill="none">
<line x1="104.29" y1="451.20" x2="104.29" y2="454.00"/>
<line x1="135.58" y1="451.20" x2="135.58" y2="454.00"/>
<line x1="162.69" y1="451.20" x2="162.69" y2="454.00"/>
<line x1="186.61" y1="451.20" x2="186.61" y2="454.00"/>
<line x1="348.73" y1="451.20" x2="348.73" y2="454.00"/>
<line x1="431.05" y1="451.20" x2="431.05" y2="454.00"/>
<line x1="489.46" y1="451.20" x2="489.46" y2="454.00"/>
<line x1="534.77" y1="451.20" x2="534.77" y2="454.00"/>
<line x1="571.79" y1="451.20" x2="571.79" y2="454.00"/>
<line x1="603.08" y1="451.20" x2="603.08" y2="454.00"/>
<line x1="630.19" y1="451.20" x2="630.19" y2="454.00"/>
<line x1="654.11" y1="451.20" x2="654.11" y2="454.00"/>
</g>
<rect x="520.80" y="52.30" width="38.70" height="346.40" fill="url(#go)"/>
<rect x="559.50" y="52.30" width="38.80" height="346.40" fill="url(#gb)"/>
<g stroke="#000" stroke-width="1.25" fill="none">
<rect x="520.80" y="52.30" width="77.50" height="346.40"/>
<line x1="559.50" y1="52.30" x2="559.50" y2="398.70"/>
<line x1="514.80" y1="398.70" x2="520.80" y2="398.70"/>
<line x1="514.80" y1="283.23" x2="520.80" y2="283.23"/>
<line x1="514.80" y1="167.77" x2="520.80" y2="167.77"/>
<line x1="514.80" y1="52.30" x2="520.80" y2="52.30"/>
</g>
<defs><filter id="gs" x="0" y="0" width="1" height="1"><feOffset dx="0" dy="0"/></filter></defs>
<g filter="url(#gs)" stroke="#000" stroke-width="0.3"><text x="54.531" y="457.700" font-size="17.60" textLength="10.844" lengthAdjust="spacingAndGlyphs">0</text><text x="34.152" y="383.533" font-size="17.60" textLength="32.086" lengthAdjust="spacingAndGlyphs">200</text><text x="34.200" y="309.367" font-size="17.60" textLength="31.017" lengthAdjust="spacingAndGlyphs">400</text><text x="34.152" y="235.200" font-size="17.60" textLength="32.086" lengthAdjust="spacingAndGlyphs">600</text><text x="34.152" y="161.033" font-size="17.60" textLength="32.086" lengthAdjust="spacingAndGlyphs">800</text><text x="23.326" y="86.867" font-size="17.60" textLength="41.933" lengthAdjust="spacingAndGlyphs">1000</text><text x="23.326" y="12.700" font-size="17.60" textLength="41.933" lengthAdjust="spacingAndGlyphs">1200</text><text x="202.646" y="475.900" font-size="17.60" textLength="9.639" lengthAdjust="spacingAndGlyphs">1</text><text x="664.557" y="475.900" font-size="17.60" textLength="20.546" lengthAdjust="spacingAndGlyphs">10</text><text x="248.786" y="498.800" font-size="17.60" textLength="253.823" lengthAdjust="spacingAndGlyphs">Input Square Pulse Rate (GHz)</text><text transform="translate(12.900,341.600) rotate(-90)" x="-2.023" y="0" font-size="17.60" textLength="228.840" lengthAdjust="spacingAndGlyphs">Modulation Amplitude (uW)</text><text x="487.349" y="405.200" font-size="17.60" textLength="21.721" lengthAdjust="spacingAndGlyphs">50</text><text x="476.893" y="289.733" font-size="17.60" textLength="32.143" lengthAdjust="spacingAndGlyphs">100</text><text x="476.948" y="174.267" font-size="17.60" textLength="32.086" lengthAdjust="spacingAndGlyphs">150</text><text x="477.531" y="58.800" font-size="17.60" textLength="31.493" lengthAdjust="spacingAndGlyphs">200</text><text transform="translate(471.700,299.100) rotate(-90)" x="-1.016" y="0" font-size="17.60" textLength="149.434" lengthAdjust="spacingAndGlyphs">Pulse Height (uW)</text><text transform="translate(548.900,321.500) rotate(-90)" x="-1.004" y="0" font-size="17.60" textLength="192.603" lengthAdjust="spacingAndGlyphs"><tspan font-style="italic">P</tspan><tspan font-style="italic" font-size="12.32" dy="3.52">pump</tspan><tspan dy="-3.52"> = 1</tspan><tspan font-style="italic">mW</tspan><tspan>, </tspan><tspan font-style="italic">L</tspan><tspan> = 50</tspan><tspan font-style="italic">nH</tspan></text><text transform="translate(588.300,321.500) rotate(-90)" x="-1.004" y="0" font-size="17.60" textLength="192.603" lengthAdjust="spacingAndGlyphs"><tspan font-style="italic">P</tspan><tspan font-style="italic" font-size="12.32" dy="3.52">pump</tspan><tspan dy="-3.52"> = 2</tspan><tspan font-style="italic">mW</tspan><tspan>, </tspan><tspan font-style="italic">L</tspan><tspan> = 30</tspan><tspan font-style="italic">nH</tspan></text></g>
</svg></body></html>
